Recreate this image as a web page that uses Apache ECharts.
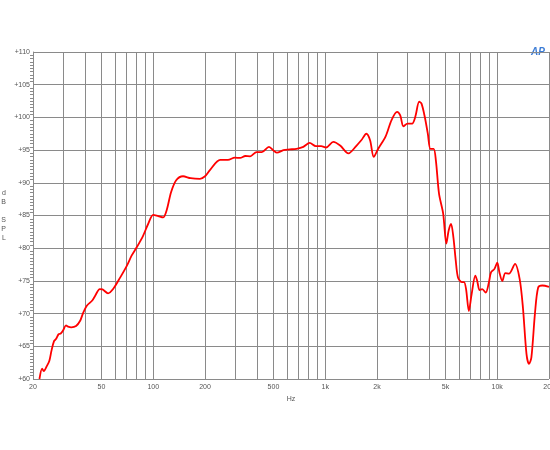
<!DOCTYPE html>
<html><head><meta charset="utf-8">
<script src="https://cdn.jsdelivr.net/npm/echarts@6/dist/echarts.min.js"></script>
<style>html,body{margin:0;padding:0;background:#fff}#c{width:550px;height:450px}</style>
</head><body><div id="c"></div>
<script>
var freqs = [21.8,22.6,23.1,24.1,24.9,25.6,26.5,27.2,28.2,29.0,29.9,31.1,32.0,33.4,35.6,37.6,39.0,41.1,44.2,45.9,48.9,50.7,54.6,58.6,64.2,70.2,75,80,87.3,93.4,100,107,114.3,119.7,127.1,136,149,165,187,200,213,245,272,298,320,343,366,399,428,471,502,524,571,622,681,746,812,882,947,1012,1115,1221,1364,1522,1620,1735,1823,1915,2033,2245,2430,2616,2730,2850,3010,3200,3340,3520,3630,3790,3950,4090,4270,4400,4590,4850,5060,5220,5390,5560,5740,5920,6250,6410,6590,6840,7100,7460,7650,7900,8180,8570,8950,9200,9620,10010,10300,10700,11150,11700,12700,13500,14100,14800,15300,15800,16570,17300,18300,20000];
var spl = [60.0,61.6,61.2,62.0,62.8,64.3,65.8,66.1,66.85,66.95,67.4,68.2,68.0,67.9,68.1,68.9,70.0,71.2,72.0,72.7,73.75,73.7,73.1,73.8,75.5,77.3,78.9,80.1,81.9,83.7,85.1,84.9,84.7,85.8,88.6,90.4,91.0,90.7,90.6,91.0,91.9,93.5,93.5,93.85,93.8,94.1,94.05,94.7,94.7,95.5,94.9,94.6,95.0,95.1,95.2,95.5,96.1,95.6,95.6,95.4,96.25,95.7,94.5,95.7,96.5,97.5,96.5,93.95,95.2,97.1,99.6,100.85,100.3,98.65,99.05,99.05,100.1,102.4,102.1,100.1,97.5,95.2,95.2,93.4,88.3,85.3,80.7,82.7,83.7,81.7,78.1,75.5,74.8,74.8,73.75,70.4,73.0,75.8,75.0,73.6,73.75,73.2,74.8,76.3,76.8,77.8,76.3,75.0,76.2,76.1,77.6,75.3,71.0,63.8,62.3,63.3,70.0,74.0,74.3,74.1];
var gridFreqs = [20,30,40,50,60,70,80,90,100,200,300,400,500,600,700,800,900,1000,2000,3000,4000,5000,6000,7000,8000,9000,10000,20000];
var labelFreqs = [20,50,100,200,500,1000,2000,5000,10000,20000];
var yTicks = [60,65,70,75,80,85,90,95,100,105,110];

var chart = echarts.init(document.getElementById('c'));
var data = freqs.map(function(f,i){return [f, spl[i]];});
chart.setOption({
  animation:false,
  grid:{left:33,right:1,top:52,bottom:71,containLabel:false,outerBoundsMode:'none'},
  xAxis:{
    type:'log', logBase:10, min:20, max:20000,
    name:'Hz', nameLocation:'middle', nameGap:13,
    nameTextStyle:{fontSize:7,color:'#555',fontFamily:'Arial'},
    axisLine:{show:false},
    axisTick:{show:false, customValues:gridFreqs},
    axisLabel:{customValues:labelFreqs, fontSize:7, color:'#555', fontFamily:'Arial', margin:5,
      formatter:function(v){v=Math.round(v);return v>=1000?(v/1000)+'k':String(v);}},
    splitLine:{show:true, lineStyle:{color:'#8a8a8a',width:1}},
    minorTick:{show:false}, minorSplitLine:{show:false}
  },
  yAxis:{
    type:'value', min:yTicks[0], max:yTicks[yTicks.length-1], interval:5,
    name:'d\nB\n\nS\nP\nL', nameLocation:'middle', nameGap:27, nameRotate:0,
    nameTextStyle:{fontSize:7,color:'#555',fontFamily:'Arial',lineHeight:9},
    axisLine:{show:true,lineStyle:{color:'#8a8a8a'}},
    axisTick:{show:false},
    minorTick:{show:true, splitNumber:10, length:3, lineStyle:{color:'#8a8a8a'}},
    axisLabel:{fontSize:7,color:'#555',fontFamily:'Arial',margin:3,formatter:function(v){return '+'+v;}},
    splitLine:{show:true, lineStyle:{color:'#8a8a8a',width:1}}
  },
  graphic:[{type:'text', left:531, top:47, style:{text:'AP', fill:'#3a7bd5', font:'italic bold 10px Arial'}}],
  series:[{type:'line', data:data, smooth:0.3, symbol:'none', lineStyle:{color:'#ff0000', width:1.8}, clip:true}]
});
</script></body></html>
